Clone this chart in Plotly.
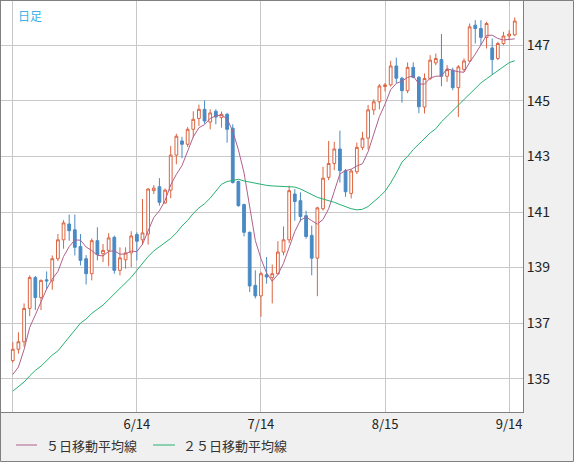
import pandas as pd
import plotly.graph_objects as go

# USD/JPY daily candles, 2023/5/15 - 2023/9/15
opens = [135.65, 136.06, 136.33, 137.53, 138.64, 137.92, 138.56, 138.52, 139.32, 140.00,
         140.57, 140.36, 139.76, 139.32, 138.78, 139.97, 139.50, 139.62, 140.09, 138.90,
         139.28, 139.53, 140.19, 140.00, 140.21, 141.77, 141.91, 141.33, 141.79, 143.05,
         143.56, 143.44, 143.98, 144.37, 144.70, 144.24, 144.63, 144.40, 144.52, 144.02,
         142.10, 141.27, 140.27, 138.36, 137.98, 138.74, 138.64, 138.78, 139.56, 140.00,
         141.65, 141.41, 140.87, 140.16, 139.34, 141.12, 142.25, 142.75, 143.27, 142.49,
         141.67, 142.45, 143.33, 143.66, 144.68, 144.97, 145.52, 145.58, 146.26, 145.82,
         145.37, 146.21, 145.85, 144.78, 145.81, 146.37, 146.49, 145.89, 146.11, 145.48,
         146.13, 146.44, 147.73, 147.61, 147.29, 146.91, 146.53, 147.07, 147.34, 147.38]
highs = [136.32, 136.67, 137.71, 138.72, 138.70, 138.57, 138.86, 139.44, 140.21, 140.71,
         140.91, 140.91, 140.21, 139.45, 140.05, 140.45, 139.85, 140.24, 140.15, 139.73,
         139.73, 140.31, 140.27, 141.47, 141.86, 141.97, 142.22, 141.85, 143.38, 143.82,
         143.71, 144.06, 144.63, 144.87, 145.02, 144.70, 144.70, 144.62, 144.57, 144.16,
         142.13, 141.30, 140.30, 138.90, 138.85, 139.38, 139.11, 139.95, 140.48, 141.95,
         141.83, 141.71, 141.05, 140.51, 141.19, 142.63, 143.56, 143.53, 143.93, 142.55,
         142.54, 143.50, 143.89, 144.86, 145.06, 145.61, 145.65, 146.45, 146.56, 145.87,
         146.39, 146.39, 145.90, 145.99, 146.65, 146.71, 147.41, 146.29, 146.20, 146.29,
         146.53, 147.79, 147.91, 147.91, 147.85, 147.25, 147.13, 147.49, 147.55, 148.01]
lows = [135.58, 135.90, 136.15, 137.25, 137.47, 137.47, 138.22, 138.20, 139.23, 139.68,
        139.97, 139.44, 139.08, 138.39, 138.54, 139.26, 139.20, 139.05, 138.78, 138.72,
        138.96, 139.02, 139.26, 139.82, 139.83, 141.65, 141.23, 141.29, 141.50, 142.72,
        142.94, 143.34, 143.68, 144.10, 144.18, 143.98, 144.16, 144.04, 143.50, 142.03,
        141.19, 140.12, 138.12, 137.89, 137.23, 138.42, 137.71, 138.74, 139.44, 139.88,
        140.69, 140.66, 140.04, 138.72, 137.97, 141.05, 142.15, 142.51, 142.06, 141.55,
        141.49, 142.37, 143.23, 143.26, 144.50, 144.70, 145.34, 145.52, 145.64, 144.94,
        145.28, 145.82, 144.56, 144.55, 145.75, 146.29, 145.53, 145.69, 145.39, 144.42,
        146.05, 146.41, 147.07, 147.01, 146.89, 145.96, 146.47, 147.01, 147.19, 147.34]
closes = [136.06, 136.33, 137.53, 138.64, 137.92, 138.54, 138.52, 139.32, 140.00, 140.61,
          140.33, 139.73, 139.26, 138.78, 139.97, 139.47, 139.62, 140.07, 138.90, 139.35,
          139.53, 140.14, 139.95, 140.25, 141.83, 141.86, 141.35, 141.79, 143.05, 143.73,
          143.44, 143.98, 144.34, 144.70, 144.28, 144.57, 144.42, 144.52, 143.98, 142.06,
          141.23, 140.27, 138.34, 137.98, 138.78, 138.66, 138.78, 139.56, 140.00, 141.77,
          141.38, 140.84, 140.12, 139.34, 141.15, 142.22, 142.75, 143.27, 142.49, 141.73,
          142.48, 143.33, 143.66, 144.68, 144.97, 145.54, 145.58, 146.26, 145.82, 145.37,
          146.21, 145.85, 144.79, 145.81, 146.47, 146.53, 145.89, 146.13, 145.48, 146.23,
          146.44, 147.67, 147.61, 147.29, 147.79, 146.49, 147.07, 147.34, 147.41, 147.88]

# first 4 points of the 5-day line (their earlier closes lie left of the chart)
ma5_head = [135.15, 135.42, 136.05, 136.85]

# 25-day line as drawn on the chart
ma25 = [134.55, 134.72, 134.88, 135.10, 135.30, 135.45, 135.65, 135.85, 136.00, 136.25,
        136.50, 136.75, 137.00, 137.15, 137.35, 137.50, 137.65, 137.85, 138.05, 138.25,
        138.45, 138.65, 138.90, 139.15, 139.40, 139.60, 139.75, 139.90, 140.05, 140.25,
        140.50, 140.70, 140.95, 141.15, 141.30, 141.50, 141.75, 142.00, 142.10, 142.15,
        142.18, 142.12, 142.08, 142.03, 142.00, 141.96, 141.94, 141.93, 141.92, 141.92,
        141.90, 141.83, 141.73, 141.60, 141.53, 141.47, 141.42, 141.35, 141.27, 141.20,
        141.12, 141.08, 141.10, 141.20, 141.36, 141.55, 141.75, 142.05, 142.40, 142.80,
        143.00, 143.25, 143.45, 143.65, 143.85, 144.00, 144.25, 144.45, 144.65, 144.85,
        145.05, 145.25, 145.45, 145.65, 145.80, 145.95, 146.10, 146.25, 146.38, 146.45]

tick_pos = [0, 22, 44, 66, 88]
tick_labels = ["", "6/14", "7/14", "8/15", "9/14"]
price_ticks = [135, 137, 139, 141, 143, 145, 147]

x = list(range(len(closes)))
ma5 = pd.Series(closes).rolling(5).mean()
ma5.iloc[:4] = ma5_head

UP = "#dc6440"
DOWN = "#4a8ac4"
MA5_COL = "#b0608c"
MA25_COL = "#26b072"
GRID = "#c8c8c8"
FONT = "Noto Sans CJK JP"

fig = go.Figure()
fig.add_trace(go.Candlestick(
    x=x, open=opens, high=highs, low=lows, close=closes,
    increasing=dict(line=dict(color=UP, width=1), fillcolor="white"),
    decreasing=dict(line=dict(color=DOWN, width=1), fillcolor=DOWN),
    whiskerwidth=0, showlegend=False, hoverinfo="skip",
))
fig.add_trace(go.Scatter(x=x, y=ma5, mode="lines", name="５日移動平均線",
                         line=dict(color=MA5_COL, width=1), showlegend=False))
fig.add_trace(go.Scatter(x=x, y=ma25, mode="lines", name="２５日移動平均線",
                         line=dict(color=MA25_COL, width=1), showlegend=False))

W, H = 574, 462
ml, mr, mt, mb = 1, 51, 1, 50
pw, ph = W - ml - mr, H - mt - mb


def px(xp):
    return (xp - ml) / pw


def py(yp):
    return 1 - (yp - mt) / ph


# legend drawn below the plot: short line sample + label
shapes = [dict(type="rect", xref="paper", yref="paper",
               x0=px(0.5), x1=px(W - 0.5), y0=py(H - 0.5), y1=py(0.5),
               line=dict(color="#808080", width=1), layer="above")]
annotations = [dict(text="日足", xref="paper", yref="paper", x=px(16), y=py(5),
                    xanchor="left", yanchor="top", showarrow=False,
                    font=dict(size=12, color="#3ab0e4"))]
for (x0, x1, tx), trace in zip([(16, 37, 44), (153, 175, 181)], fig.data[1:]):
    shapes.append(dict(type="line", xref="paper", yref="paper",
                       x0=px(x0), x1=px(x1), y0=py(445), y1=py(445),
                       line=dict(color=trace.line.color, width=1)))
    annotations.append(dict(text=trace.name, xref="paper", yref="paper",
                            x=px(tx), y=py(445), xanchor="left", yanchor="middle",
                            showarrow=False, font=dict(size=13, color="#333")))

fig.update_layout(
    width=W, height=H,
    margin=dict(l=ml, r=mr, t=mt, b=mb),
    paper_bgcolor="#f0f0f0", plot_bgcolor="white",
    font=dict(family=FONT, size=13, color="#222"),
    showlegend=False,
    xaxis=dict(range=[-2.09, 90.46], tickvals=tick_pos, ticktext=tick_labels,
               showgrid=True, gridcolor=GRID, gridwidth=1, zeroline=False,
               showline=True, linecolor="#808080", mirror=True, ticks="",
               rangeslider=dict(visible=False), tickfont=dict(size=13)),
    yaxis=dict(range=[133.8, 148.6], side="right", tickvals=price_ticks,
               showgrid=True, gridcolor=GRID, gridwidth=1, zeroline=False,
               showline=True, linecolor="#808080", mirror=True, ticks="",
               tickfont=dict(size=14)),
    annotations=annotations,
    shapes=shapes,
)

# page body has a default 8px margin; drop it so the chart sits at 0,0
fig.write_html("out.html", config={"displayModeBar": False},
               post_script="document.body.style.margin='0';")
